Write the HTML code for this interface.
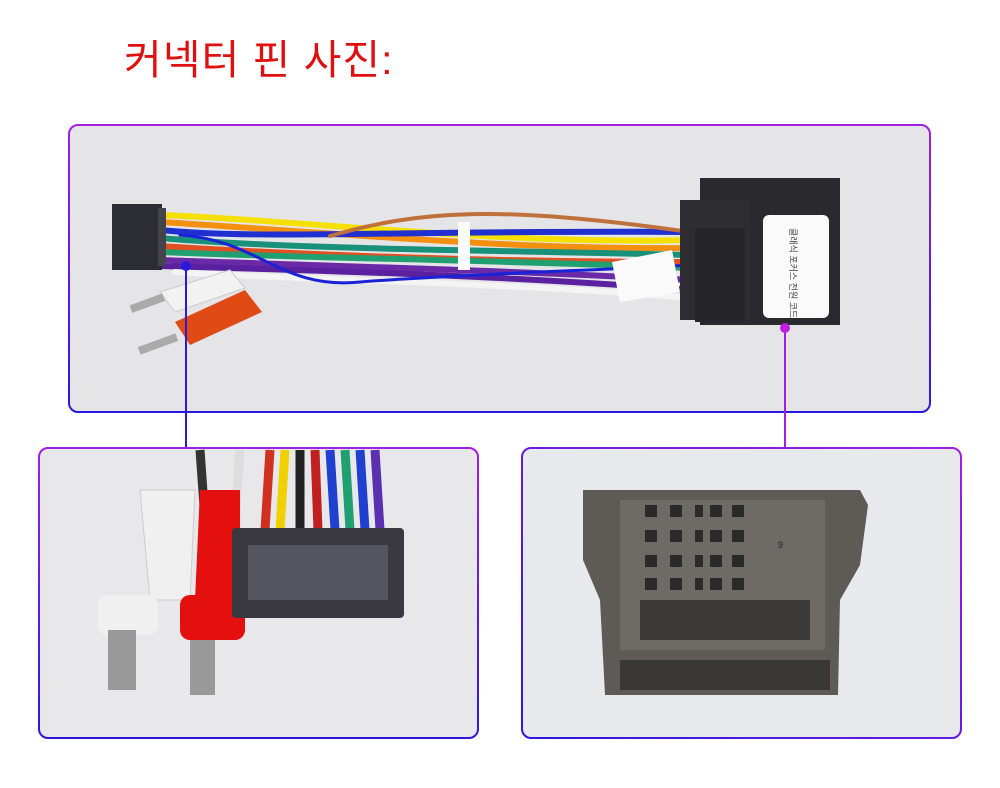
<!DOCTYPE html>
<html><head><meta charset="utf-8"><style>
html,body{margin:0;padding:0;background:#fff;}
body{width:1000px;height:788px;overflow:hidden;position:relative;font-family:"Liberation Sans","Noto Sans CJK KR",sans-serif;}
.title{position:absolute;left:124px;top:34px;font-size:41px;color:#e01010;font-family:"Liberation Sans","Noto Sans CJK KR",sans-serif;letter-spacing:1px;line-height:52px;}
svg{position:absolute;left:0;top:0;}
</style></head><body>
<svg width="1000" height="788" viewBox="0 0 1000 788">
<defs>
<linearGradient id="gv" x1="0" y1="0" x2="0" y2="1"><stop offset="0" stop-color="#a21ee0"/><stop offset="1" stop-color="#2a18e0"/></linearGradient>
<linearGradient id="gd" x1="0" y1="1" x2="1" y2="0"><stop offset="0" stop-color="#2a18e0"/><stop offset="1" stop-color="#a21ee0"/></linearGradient>
</defs>
<rect x="69" y="125" width="861" height="287" rx="9" fill="#e5e5e7" stroke="url(#gv)" stroke-width="2"/>
<g fill="none" stroke-width="6" stroke-linecap="round">
<path d="M160 215 C300 220 500 245 690 240" stroke="#f5e000"/>
<path d="M160 222 C300 230 500 250 690 248" stroke="#f39010"/>
<path d="M160 230 C260 240 400 230 690 232" stroke="#2030d0"/>
<path d="M160 238 C300 250 500 250 690 255" stroke="#18907a"/>
<path d="M160 246 C300 255 500 262 690 262" stroke="#e05020"/>
<path d="M160 252 C300 258 500 260 690 268" stroke="#20a070"/>
<path d="M160 260 C300 265 500 270 690 280" stroke="#6a2aa8"/>
<path d="M160 266 C300 270 500 275 690 290" stroke="#5a20a0"/>
<path d="M175 272 C300 280 500 282 690 298" stroke="#f4f4f4"/>
<path d="M330 236 C420 210 500 205 690 232" stroke="#c0703a" stroke-width="4"/>
<path d="M180 235 C260 240 280 290 360 282 C450 275 600 270 690 265" stroke="#1a22d8" stroke-width="3"/>
</g>
<rect x="112" y="204" width="50" height="66" fill="#2c2c34"/>
<rect x="158" y="208" width="8" height="58" fill="#44444c"/>
<path d="M160 292 L230 270 L245 288 L175 312 Z" fill="#f2f2f2" stroke="#ccc"/>
<rect x="130" y="300" width="35" height="8" fill="#aaa" transform="rotate(-20 145 304)"/>
<path d="M175 322 L245 290 L262 312 L190 345 Z" fill="#e04a14"/>
<rect x="138" y="340" width="40" height="8" fill="#aaa" transform="rotate(-20 158 344)"/>
<rect x="458" y="222" width="12" height="48" fill="#fafafa"/>
<path d="M612 262 L672 250 L680 292 L620 302 Z" fill="#fafafa"/>
<path d="M700 178 L840 178 L840 325 L700 325 Z" fill="#2a2a2e"/>
<rect x="680" y="200" width="70" height="120" fill="#2e2e32"/>
<rect x="695" y="228" width="50" height="94" fill="#26262a"/>
<rect x="763" y="215" width="66" height="103" rx="6" fill="#fafafa"/>
<text x="0" y="0" font-size="9" fill="#444" transform="translate(790 228) rotate(90)" font-family="Liberation Sans,Noto Sans CJK KR,sans-serif">클래식 포커스 전원 코드</text>
<line x1="186" y1="266" x2="186" y2="448" stroke="#2a18e0" stroke-width="2"/>
<circle cx="186" cy="266" r="5" fill="#2a18e0"/>
<line x1="785" y1="330" x2="785" y2="448" stroke="#a21ee0" stroke-width="2"/>
<circle cx="785" cy="328" r="5" fill="#c020e0"/>
<rect x="39" y="448" width="439" height="290" rx="9" fill="#e8e8ea" stroke="url(#gv)" stroke-width="2"/>
<g stroke-width="9" fill="none">
<path d="M200 450 L205 520" stroke="#333"/><path d="M240 450 L235 520" stroke="#ddd"/>
<path d="M270 450 L265 530" stroke="#d03020"/><path d="M285 450 L280 530" stroke="#f0d000"/>
<path d="M300 450 L300 530" stroke="#222"/><path d="M315 450 L318 530" stroke="#c02020"/>
<path d="M330 450 L335 530" stroke="#2040d0"/><path d="M345 450 L350 530" stroke="#20a070"/>
<path d="M360 450 L365 530" stroke="#2040d0"/><path d="M375 450 L380 530" stroke="#5a30b0"/>
</g>
<path d="M140 490 L195 490 L190 600 L150 600 Z" fill="#f0f0f0" stroke="#ccc"/>
<rect x="98" y="595" width="60" height="40" rx="10" fill="#f0f0f0"/>
<rect x="108" y="630" width="28" height="60" fill="#999"/>
<path d="M200 490 L240 490 L240 600 L195 600 Z" fill="#e41010"/>
<rect x="180" y="595" width="65" height="45" rx="10" fill="#e41010"/>
<rect x="190" y="640" width="25" height="55" fill="#999"/>
<rect x="232" y="528" width="172" height="90" rx="4" fill="#39393f"/>
<rect x="248" y="545" width="140" height="55" fill="#555560"/>
<rect x="522" y="448" width="439" height="290" rx="9" fill="#e8e9ec" stroke="url(#gd)" stroke-width="2"/>
<path d="M583 490 L860 490 L868 505 L860 565 L840 600 L838 695 L605 695 L600 600 L583 560 Z" fill="#5e5a56"/>
<rect x="620" y="500" width="205" height="150" fill="#6e6a66"/>
<g fill="#2a2a2a">
<rect x="645" y="505" width="12" height="12"/><rect x="670" y="505" width="12" height="12"/><rect x="695" y="505" width="8" height="12"/><rect x="710" y="505" width="12" height="12"/><rect x="732" y="505" width="12" height="12"/>
<rect x="645" y="530" width="12" height="12"/><rect x="670" y="530" width="12" height="12"/><rect x="695" y="530" width="8" height="12"/><rect x="710" y="530" width="12" height="12"/><rect x="732" y="530" width="12" height="12"/>
<rect x="645" y="555" width="12" height="12"/><rect x="670" y="555" width="12" height="12"/><rect x="695" y="555" width="8" height="12"/><rect x="710" y="555" width="12" height="12"/><rect x="732" y="555" width="12" height="12"/>
<rect x="645" y="578" width="12" height="12"/><rect x="670" y="578" width="12" height="12"/><rect x="695" y="578" width="8" height="12"/><rect x="710" y="578" width="12" height="12"/><rect x="732" y="578" width="12" height="12"/>
</g>
<rect x="640" y="600" width="170" height="40" fill="#3c3a38"/>
<rect x="620" y="660" width="210" height="30" fill="#3a3836"/>
<text x="778" y="548" font-size="9" fill="#222">9</text>
</svg>
<div class="title">커넥터 핀 사진:</div>
</body></html>
